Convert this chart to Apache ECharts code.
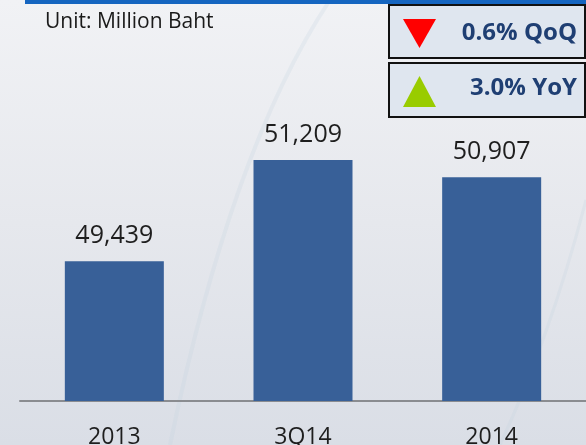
<!DOCTYPE html>
<html>
<head>
<meta charset="utf-8">
<script src="https://cdn.jsdelivr.net/npm/echarts@6/dist/echarts.min.js"></script>
<style>
  html, body { margin: 0; padding: 0; }
  #chart { width: 586px; height: 445px; }
</style>
</head>
<body>
<div id="chart"></div>
<script>
// Revenue by period, in million baht
const categories = ['2013', '3Q14', '2014'];
const revenue = [49439, 51209, 50907];

// Change badges shown in the top-right corner
const qoqText = '0.6% QoQ';
const yoyText = '3.0% YoY';

const FONT = '"Open Sans", "Noto Sans", sans-serif';

const chart = echarts.init(document.getElementById('chart'));

chart.setOption({
  animation: false,
  backgroundColor: {
    type: 'linear', x: 0, y: 0, x2: 0, y2: 1,
    colorStops: [
      { offset: 0, color: '#f1f2f5' },
      { offset: 0.5, color: '#e6e8ed' },
      { offset: 1, color: '#dadee6' }
    ]
  },
  grid: { left: 20, right: 0, top: 0, bottom: 44, containLabel: false, outerBoundsMode: 'none' },
  xAxis: {
    type: 'category',
    data: categories,
    axisLine: { show: true, lineStyle: { color: '#8a8c90', width: 2 } },
    axisTick: { show: false },
    axisLabel: {
      color: '#1e1e1e',
      fontFamily: FONT,
      fontSize: 23,
      margin: 25
    }
  },
  yAxis: {
    type: 'value',
    min: 47000,
    max: 54000,
    show: false,
    splitLine: { show: false }
  },
  series: [{
    type: 'bar',
    data: revenue,
    barWidth: 99,
    itemStyle: { color: '#386098' },
    label: {
      show: true,
      position: 'top',
      distance: 13,
      color: '#1e1e1e',
      fontFamily: FONT,
      fontSize: 25,
      formatter: p => p.value.toLocaleString('en-US')
    }
  }],
  graphic: [
    // faint decorative swooshes in the backdrop
    {
      type: 'bezierCurve', silent: true, z: -1,
      shape: { x1: 330, y1: 0, cpx1: 250, cpy1: 120, cpx2: 200, cpy2: 300, x2: 170, y2: 445 },
      style: { stroke: 'rgba(195,210,225,0.25)', lineWidth: 4, fill: null }
    },
    {
      type: 'bezierCurve', silent: true, z: -1,
      shape: { x1: 586, y1: 200, cpx1: 560, cpy1: 300, cpx2: 530, cpy2: 380, x2: 500, y2: 445 },
      style: { stroke: 'rgba(195,210,225,0.25)', lineWidth: 3, fill: null }
    },
    // top accent strip
    {
      type: 'rect', silent: true,
      shape: { x: 25, y: 0, width: 561, height: 4 },
      style: { fill: '#1565c0' }
    },
    {
      type: 'text', left: 45, top: 12,
      style: { text: 'Unit: Million Baht', fill: '#1a1a1a', font: '21px ' + FONT }
    },
    // QoQ badge
    {
      type: 'rect',
      shape: { x: 389, y: 5, width: 196, height: 53 },
      style: { fill: '#dfe6ef', stroke: '#111111', lineWidth: 2 }
    },
    {
      type: 'polygon',
      shape: { points: [[403, 19], [436, 19], [419.5, 48]] },
      style: { fill: '#ff0000' }
    },
    {
      type: 'text', right: 9, top: 21,
      style: { text: qoqText, fill: '#1f3f73', font: 'bold 24px ' + FONT, textAlign: 'right' }
    },
    // YoY badge
    {
      type: 'rect',
      shape: { x: 389, y: 63, width: 196, height: 54 },
      style: { fill: '#dfe6ef', stroke: '#111111', lineWidth: 2 }
    },
    {
      type: 'polygon',
      shape: { points: [[403, 107], [436, 107], [419.5, 76]] },
      style: { fill: '#99cc00' }
    },
    {
      type: 'text', right: 9, top: 76,
      style: { text: yoyText, fill: '#1f3f73', font: 'bold 24px ' + FONT, textAlign: 'right' }
    }
  ]
});
</script>
</body>
</html>
